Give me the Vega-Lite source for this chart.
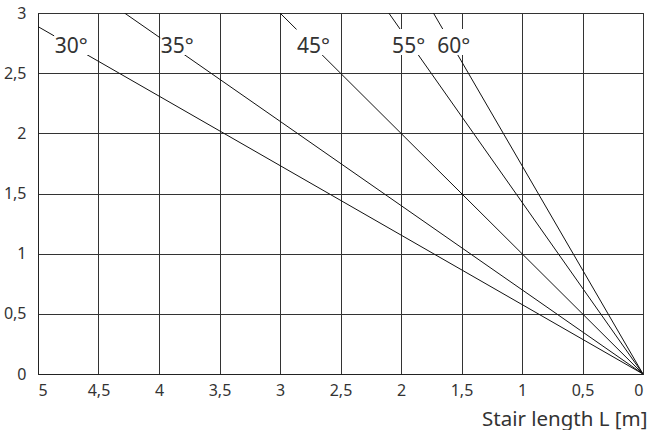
{
  "$schema": "https://vega.github.io/schema/vega-lite/v6.json",
  "width": 605,
  "height": 361,
  "autosize": {"type": "none"},
  "padding": {"left": 38, "top": 13, "right": 5, "bottom": 56},
  "background": "white",
  "config": {
    "font": "Noto Sans",
    "view": {"stroke": "#222222", "strokeWidth": 1},
    "axis": {
      "labelFont": "Noto Sans",
      "labelFontSize": 16,
      "labelColor": "#333333",
      "titleFont": "Noto Sans",
      "titleColor": "#333333",
      "ticks": false,
      "grid": true,
      "gridColor": "#333333",
      "gridOpacity": 1,
      "gridWidth": 1,
      "domainColor": "#222222",
      "domainWidth": 1
    }
  },
  "datasets": {
    "lines": [
      {"angle": "30°", "L": 0, "H": 0},
      {"angle": "30°", "L": 5, "H": 2.887},
      {"angle": "35°", "L": 0, "H": 0},
      {"angle": "35°", "L": 4.285, "H": 3},
      {"angle": "45°", "L": 0, "H": 0},
      {"angle": "45°", "L": 3, "H": 3},
      {"angle": "55°", "L": 0, "H": 0},
      {"angle": "55°", "L": 2.101, "H": 3},
      {"angle": "60°", "L": 0, "H": 0},
      {"angle": "60°", "L": 1.732, "H": 3}
    ],
    "labels": [
      {"label": "30°", "L": 4.726, "H": 2.759},
      {"label": "35°", "L": 3.849, "H": 2.759},
      {"label": "45°", "L": 2.723, "H": 2.759},
      {"label": "55°", "L": 1.937, "H": 2.759},
      {"label": "60°", "L": 1.565, "H": 2.759}
    ]
  },
  "layer": [
    {
      "data": {"name": "lines"},
      "mark": {"type": "line", "color": "#111111", "strokeWidth": 1, "clip": true},
      "encoding": {
        "x": {
          "field": "L",
          "type": "quantitative",
          "scale": {"domain": [0, 5], "reverse": true, "nice": false},
          "axis": {
            "values": [0, 0.5, 1, 1.5, 2, 2.5, 3, 3.5, 4, 4.5, 5],
            "format": "~g",
            "labelExpr": "replace(datum.label, '.', ',')",
            "labelPadding": 8,
            "labelFlush": true,
            "title": "Stair length L [m]",
            "titleFontSize": 20.5,
            "titleFontWeight": "normal",
            "titleAnchor": "end",
            "titleAlign": "right",
            "titleBaseline": "alphabetic",
            "titleX": 609,
            "titleY": 51.5
          }
        },
        "y": {
          "field": "H",
          "type": "quantitative",
          "scale": {"domain": [0, 3], "nice": false},
          "axis": {
            "values": [0, 0.5, 1, 1.5, 2, 2.5, 3],
            "format": "~g",
            "labelExpr": "replace(datum.label, '.', ',')",
            "labelPadding": 12,
            "labelFlush": false,
            "labelBaseline": "middle",
            "title": null
          }
        },
        "detail": {"field": "angle"}
      }
    },
    {
      "data": {"name": "labels"},
      "mark": {
        "type": "point",
        "shape": "M-1.31,-1H1.31V1H-1.31Z",
        "size": 676,
        "filled": true,
        "fill": "white",
        "opacity": 1,
        "strokeWidth": 0
      },
      "encoding": {
        "x": {"field": "L", "type": "quantitative"},
        "y": {"field": "H", "type": "quantitative"}
      }
    },
    {
      "data": {"name": "labels"},
      "mark": {
        "type": "text",
        "fontSize": 21,
        "color": "#333333",
        "align": "center",
        "baseline": "alphabetic",
        "dy": 11.3
      },
      "encoding": {
        "x": {"field": "L", "type": "quantitative"},
        "y": {"field": "H", "type": "quantitative"},
        "text": {"field": "label"}
      }
    }
  ]
}
